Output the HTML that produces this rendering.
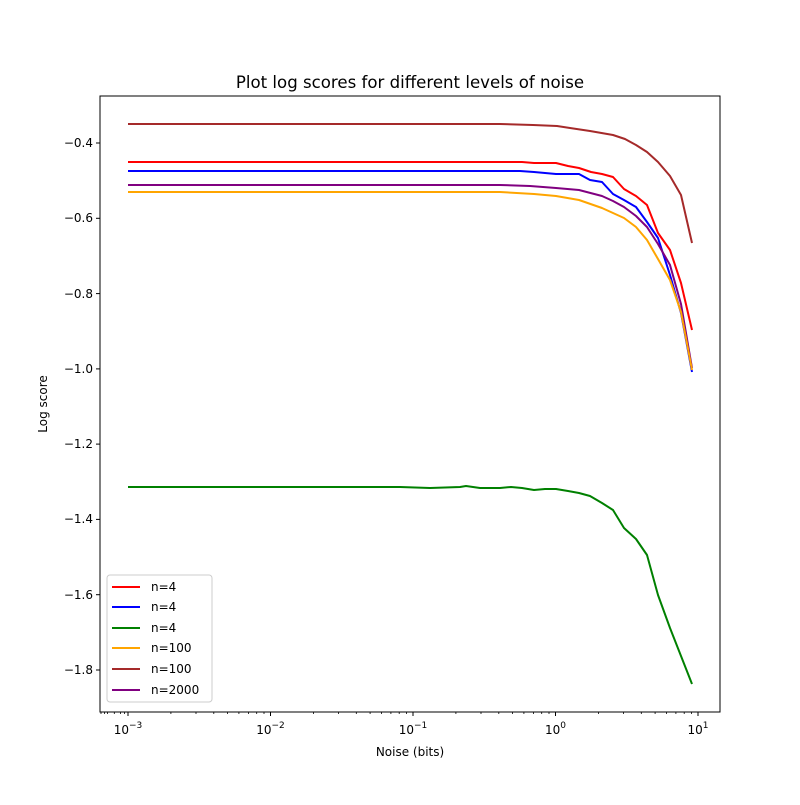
<!DOCTYPE html><html><head><style>body{margin:0;background:#fff}</style></head><body>
<svg width="800" height="800" xmlns="http://www.w3.org/2000/svg" font-family="DejaVu Sans, Liberation Sans, sans-serif">
<rect width="800" height="800" fill="#fff"/>
<text x="410" y="88" font-size="16.6" text-anchor="middle">Plot log scores for different levels of noise</text>
<g fill="none" stroke-width="2" stroke-linejoin="round">
<polyline stroke="brown" points="128,124 500,124 533,125 557,126 570,128 590,131 613,135 625,139 636,145 647,152 658,162 670,176 681,195 692,243"/>
<polyline stroke="red" points="128,162 500,162 522,162 534,163 556,163 568,166 579,168 591,172 602,174 613,177 624,189 636,196 647,205 658,233 670,250 681,283 692,330"/>
<polyline stroke="blue" points="128,171 520,171 534,172 556,174 568,174 579,174 590,180 602,182 613,194 624,200 636,207 647,222 658,238 670,275 681,313 692,372"/>
<polyline stroke="purple" points="128,185 500,185 530,186 556,188 579,190 602,196 613,201 624,207 636,216 647,227 658,244 670,265 681,304 692,368"/>
<polyline stroke="orange" points="128,192 500,192 534,194 556,196 579,200 602,208 624,218 636,227 647,240 658,259 670,280 681,312 692,370"/>
<polyline stroke="green" points="128,487 400,487 430,488 460,487 466,486 480,488 490,488 500,488 511,487 522,488 534,490 545,489 556,489 568,491 579,493 590,496 602,503 613,510 624,528 636,539 647,555 658,595 670,628 681,656 692,684"/>
</g>
<rect x="100" y="96" width="620" height="616" fill="none" stroke="#000" stroke-width="1"/>
<g stroke="#000" stroke-width="1">
<line x1="128" y1="712" x2="128" y2="716"/><line x1="270.5" y1="712" x2="270.5" y2="716"/><line x1="413" y1="712" x2="413" y2="716"/><line x1="555.5" y1="712" x2="555.5" y2="716"/><line x1="698" y1="712" x2="698" y2="716"/>
<line x1="96" y1="143" x2="100" y2="143"/><line x1="96" y1="218.3" x2="100" y2="218.3"/><line x1="96" y1="293.6" x2="100" y2="293.6"/><line x1="96" y1="368.9" x2="100" y2="368.9"/><line x1="96" y1="444.1" x2="100" y2="444.1"/><line x1="96" y1="519.4" x2="100" y2="519.4"/><line x1="96" y1="594.7" x2="100" y2="594.7"/><line x1="96" y1="670" x2="100" y2="670"/>
</g>
<g stroke="#000" stroke-width="0.8">
<line x1="101.0" y1="712" x2="101.0" y2="714"/><line x1="104.4" y1="712" x2="104.4" y2="714"/><line x1="107.6" y1="712" x2="107.6" y2="714"/><line x1="114.3" y1="712" x2="114.3" y2="714"/><line x1="120.6" y1="712" x2="120.6" y2="714"/><line x1="124.5" y1="712" x2="124.5" y2="714"/>
<line x1="170.9" y1="712" x2="170.9" y2="714"/><line x1="196.0" y1="712" x2="196.0" y2="714"/><line x1="213.8" y1="712" x2="213.8" y2="714"/><line x1="227.6" y1="712" x2="227.6" y2="714"/><line x1="238.9" y1="712" x2="238.9" y2="714"/><line x1="248.4" y1="712" x2="248.4" y2="714"/><line x1="256.7" y1="712" x2="256.7" y2="714"/><line x1="264.0" y1="712" x2="264.0" y2="714"/>
<line x1="313.4" y1="712" x2="313.4" y2="714"/><line x1="338.5" y1="712" x2="338.5" y2="714"/><line x1="356.3" y1="712" x2="356.3" y2="714"/><line x1="370.1" y1="712" x2="370.1" y2="714"/><line x1="381.4" y1="712" x2="381.4" y2="714"/><line x1="390.9" y1="712" x2="390.9" y2="714"/><line x1="399.2" y1="712" x2="399.2" y2="714"/><line x1="406.5" y1="712" x2="406.5" y2="714"/>
<line x1="455.9" y1="712" x2="455.9" y2="714"/><line x1="481.0" y1="712" x2="481.0" y2="714"/><line x1="498.8" y1="712" x2="498.8" y2="714"/><line x1="512.6" y1="712" x2="512.6" y2="714"/><line x1="523.9" y1="712" x2="523.9" y2="714"/><line x1="533.4" y1="712" x2="533.4" y2="714"/><line x1="541.7" y1="712" x2="541.7" y2="714"/><line x1="549.0" y1="712" x2="549.0" y2="714"/>
<line x1="598.4" y1="712" x2="598.4" y2="714"/><line x1="623.5" y1="712" x2="623.5" y2="714"/><line x1="641.3" y1="712" x2="641.3" y2="714"/><line x1="655.1" y1="712" x2="655.1" y2="714"/><line x1="666.4" y1="712" x2="666.4" y2="714"/><line x1="675.9" y1="712" x2="675.9" y2="714"/><line x1="684.2" y1="712" x2="684.2" y2="714"/><line x1="691.5" y1="712" x2="691.5" y2="714"/>
</g>
<g font-size="12" text-anchor="middle">
<text x="128" y="734">10<tspan dy="-6" font-size="9">−3</tspan></text>
<text x="270.5" y="734">10<tspan dy="-6" font-size="9">−2</tspan></text>
<text x="413" y="734">10<tspan dy="-6" font-size="9">−1</tspan></text>
<text x="555.5" y="734">10<tspan dy="-6" font-size="9">0</tspan></text>
<text x="698" y="734">10<tspan dy="-6" font-size="9">1</tspan></text>
</g>
<g font-size="12" text-anchor="end">
<text x="93" y="147">−0.4</text><text x="93" y="222">−0.6</text><text x="93" y="298">−0.8</text><text x="93" y="373">−1.0</text><text x="93" y="448">−1.2</text><text x="93" y="523">−1.4</text><text x="93" y="599">−1.6</text><text x="93" y="674">−1.8</text>
</g>
<text x="410" y="756" font-size="12" text-anchor="middle">Noise (bits)</text>
<text x="47" y="404" font-size="12" text-anchor="middle" transform="rotate(-90 47 404)">Log score</text>
<rect x="107" y="575" width="105" height="127" fill="#fff" stroke="#ccc" rx="3"/>
<g stroke-width="2">
<line x1="112" y1="587" x2="140" y2="587" stroke="red"/>
<line x1="112" y1="607" x2="140" y2="607" stroke="blue"/>
<line x1="112" y1="628" x2="140" y2="628" stroke="green"/>
<line x1="112" y1="648" x2="140" y2="648" stroke="orange"/>
<line x1="112" y1="669" x2="140" y2="669" stroke="brown"/>
<line x1="112" y1="690" x2="140" y2="690" stroke="purple"/>
</g>
<g font-size="12">
<text x="151" y="591">n=4</text><text x="151" y="611">n=4</text><text x="151" y="632">n=4</text><text x="151" y="652">n=100</text><text x="151" y="673">n=100</text><text x="151" y="694">n=2000</text>
</g>
</svg></body></html>
